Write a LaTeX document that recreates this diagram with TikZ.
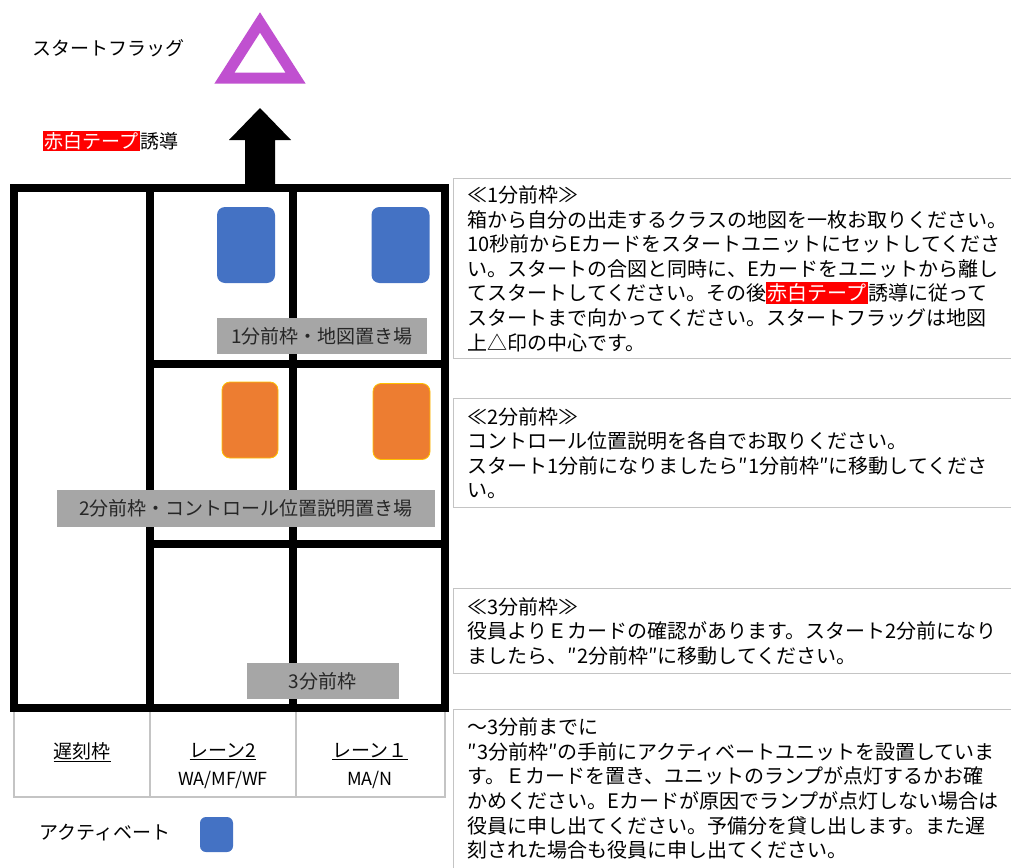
\documentclass[tikz,border=0pt]{standalone}
\usepackage{fontspec}
\setmainfont{Noto Sans CJK JP}
\usetikzlibrary{positioning}

\definecolor{flagpurple}{RGB}{192,80,208}
\definecolor{unitblue}{RGB}{68,114,196}
\definecolor{descorange}{RGB}{237,125,49}
\definecolor{descrim}{RGB}{255,192,0}
\definecolor{taggray}{RGB}{166,166,166}
\definecolor{linegray}{RGB}{196,196,196}

\newcommand{\tapemark}[1]{{\setlength{\fboxsep}{1.5pt}\colorbox{red}{\color{white}#1}}}

\begin{document}
\begin{tikzpicture}[x=1pt, y=-1pt, font=\fontsize{19}{24}\selectfont,
	frame/.style={line width=8pt, line cap=rect},
	unit/.style={rounded corners=8pt, inner sep=0pt, minimum width=58pt, minimum height=76pt},
	areatag/.style={fill=taggray, text=black!85, inner sep=0pt, minimum height=36pt},
	infobox/.style={draw=linegray, line width=1.2pt, anchor=north west, text width=530pt,
		inner xsep=14pt, align=left, font=\fontsize{20}{24.6}\selectfont},
	lane/.style={draw=linegray, line width=1.2pt}]
	\def\Lx{14}
	\def\Ax{150}
	\def\Bx{293}
	\def\Rx{445}
	\def\Ty{188}
	\def\My{364}
	\def\Ny{544}
	\def\By{708}
	\def\Tb{797}

	\useasboundingbox (0,0) rectangle (1011,867);

	% start flag and guide
	\node (flaglabel) at (108,48) {スタートフラッグ};
	\draw[flagpurple, line width=11pt]	(260,22.5) -- (295.5,78) -- (224.5,78) -- cycle;
	\fill	(245,\Ty) -- (245,140) -- (229,140) -- (260,108) -- (291,140) -- (275,140) -- (275,\Ty) -- cycle;
	\node[anchor=west, inner sep=0pt] (tape) at (43,141) {\tapemark{赤白テープ}誘導};

	% lanes below the frame
	\draw[lane]	(\Lx,\By) rectangle (\Rx,\Tb);
	\draw[lane]	(\Ax,\By) -- (\Ax,\Tb);
	\draw[lane]	(296,\By) -- (296,\Tb);
	\node (late) at (82,752) {\underline{遅刻枠}};
	\node[align=center, font=\fontsize{19}{28}\selectfont] (lane2) at (223,766) {\underline{レーン2}\\{\fontsize{18}{20}\selectfont WA/MF/WF}};
	\node[align=center, font=\fontsize{19}{28}\selectfont] (lane1) at (370,766) {\underline{レーン１}\\{\fontsize{18}{20}\selectfont MA/N}};

	% start frame
	\draw[frame]	(\Lx,\Ty) rectangle (\Rx,\By);
	\draw[frame]	(\Ax,\Ty) -- (\Ax,\By);
	\draw[frame]	(\Bx,\Ty) -- (\Bx,\By);
	\draw[frame]	(\Ax,\My) -- (\Rx,\My);
	\draw[frame]	(\Ax,\Ny) -- (\Rx,\Ny);

	\node[unit, fill=unitblue] (map2) at (246,245) {};
	\node[unit, fill=unitblue] (map1) at (400.5,245) {};
	\node[unit, fill=descorange, draw=descrim, line width=0.8pt, minimum width=56pt] (desc2) at (250,420) {};
	\node[unit, fill=descorange, draw=descrim, line width=0.8pt, minimum width=57pt] (desc1) at (401.5,421.5) {};

	\node[areatag, minimum width=210pt] (tag1) at (322,336) {1分前枠・地図置き場};
	\node[areatag, minimum width=378pt, minimum height=37pt] (tag2) at (246,508.5) {2分前枠・コントロール位置説明置き場};
	\node[areatag, minimum width=152pt] (tag3) at (322.5,681) {3分前枠};

	% legend
	\node (actlabel) at (105,833) {アクティベート};
	\node[unit, fill=unitblue, rounded corners=6pt, minimum width=33pt, minimum height=35pt] (actunit) at (216.5,834.5) {};

	% notes
	\node[infobox, minimum height=180pt] (info1) at (453,178) {≪1分前枠≫\\
		箱から自分の出走するクラスの地図を一枚お取りください。\\
		10秒前からEカードをスタートユニットにセットしてくださ\\
		い。スタートの合図と同時に、Eカードをユニットから離し\\
		てスタートしてください。その後\tapemark{赤白テープ}誘導に従って\\
		スタートまで向かってください。スタートフラッグは地図\\
		上△印の中心です。};
	\node[infobox, minimum height=109pt] (info2) at (453,398) {≪2分前枠≫\\
		コントロール位置説明を各自でお取りください。\\
		スタート1分前になりましたら″1分前枠″に移動してくださ\\
		い。};
	\node[infobox, minimum height=85pt] (info3) at (453,588) {≪3分前枠≫\\
		役員よりＥカードの確認があります。スタート2分前になり\\
		ましたら、″2分前枠″に移動してください。};
	\node[infobox, minimum height=181pt] (info4) at (453,709) {〜3分前までに\\
		″3分前枠″の手前にアクティベートユニットを設置していま\\
		す。Ｅカードを置き、ユニットのランプが点灯するかお確\\
		かめください。Eカードが原因でランプが点灯しない場合は\\
		役員に申し出てください。予備分を貸し出します。また遅\\
		刻された場合も役員に申し出てください。\\ \mbox{}};
\end{tikzpicture}
\end{document}
